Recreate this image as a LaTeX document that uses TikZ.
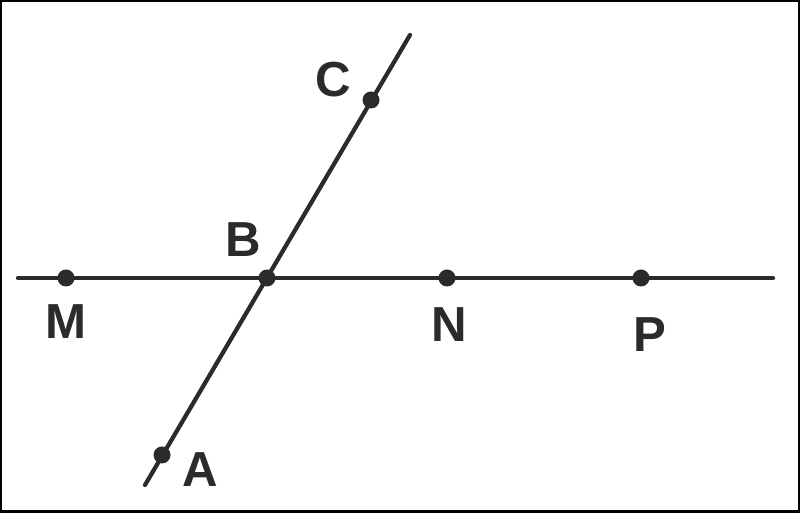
\documentclass[tikz,border=0pt]{standalone}
\usepackage{fontspec}
\setmainfont{Liberation Sans}
\usepackage{xcolor}
\usetikzlibrary{positioning,calc}
\definecolor{ink}{HTML}{2B2B2B}
\tikzset{
  ptdot/.style={circle,fill=ink,inner sep=0pt,minimum size=0.34cm},
  ptlabel/.style={text=ink,font=\fontsize{28}{30}\bfseries\selectfont,inner sep=0pt},
  geoline/.style={draw=ink,line width=0.085cm,line cap=round}
}
\begin{document}
\begin{tikzpicture}[scale=1]
    \useasboundingbox (0,0) rectangle (16,10.26);
    % Frame
    \draw[line width=0.05cm] (0.025,0.025) rectangle (15.975,10.235);

    % Line ends
    \coordinate (left) at (0.36,4.70);
    \coordinate (right) at (15.46,4.70);
    \coordinate (low) at (2.90,0.56);
    \coordinate (high) at (8.20,9.56);

    % Horizontal line MNP
    \draw[geoline] (left) -- (right);
    % Slanted line ABC
    \draw[geoline] (low) -- (high);

    % Points
    \node[ptdot] (M) at (1.32,4.70) {};
    \node[ptdot] (B) at (5.34,4.70) {};
    \node[ptdot] (N) at (8.94,4.70) {};
    \node[ptdot] (P) at (12.82,4.70) {};
    \node[ptdot] (A) at (3.24,1.16) {};
    \node[ptdot] (C) at (7.42,8.26) {};

    % Labels
    \node[ptlabel] (labC) at (6.66,8.66) {C};
    \node[ptlabel] (labB) at (4.86,5.46) {B};
    \node[ptlabel] (labM) at (1.32,3.82) {M};
    \node[ptlabel] (labN) at (8.98,3.76) {N};
    \node[ptlabel] (labP) at (13.00,3.56) {P};
    \node[ptlabel] (labA) at (4.00,0.86) {A};
\end{tikzpicture}
\end{document}
